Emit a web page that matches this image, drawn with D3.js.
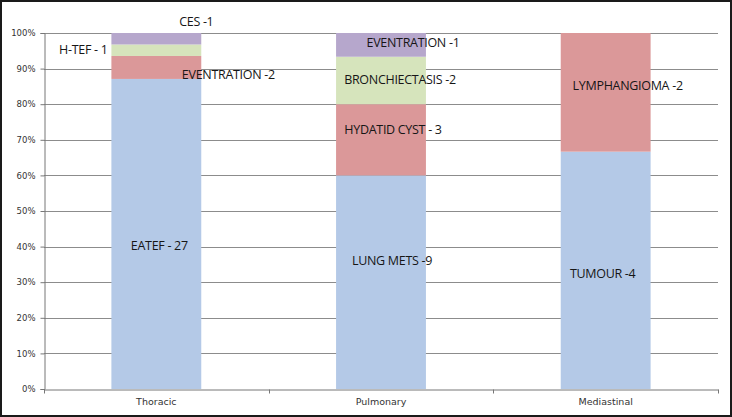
<!DOCTYPE html>
<html><head><meta charset="utf-8">
<script src="https://cdn.jsdelivr.net/npm/d3@7"></script>
<style>
html,body{margin:0;padding:0;background:#fff;}
svg{display:block;}
</style></head>
<body>
<script>
// ---- data ----
const categories = ["Thoracic", "Pulmonary", "Mediastinal"];
const seriesKeys = ["s1", "s2", "s3", "s4"];
const s1Values = [27, 9, 4];
const s2Values = [2, 3, 2];
const s3Values = [1, 2, 0];
const s4Values = [1, 1, 0];
const s1Labels = ["EATEF - 27", "LUNG METS -9", "TUMOUR -4"];
const s2Labels = ["EVENTRATION -2", "HYDATID CYST - 3", "LYMPHANGIOMA -2"];
const s3Labels = ["H-TEF - 1", "BRONCHIECTASIS -2", null];
const s4Labels = ["CES -1", "EVENTRATION -1", null];
const yTicks = [0, 0.1, 0.2, 0.3, 0.4, 0.5, 0.6, 0.7, 0.8, 0.9, 1.0];

// ---- layout (label anchors: value-space y, pixel x offset) ----
const colors = {s1: "#b4c9e7", s2: "#db9899", s3: "#d6e4bc", s4: "#b6a7cc"};
const labelAnchor = {
  s1: [[0.402, 3], [0.362, 11], [0.323, -3]],
  s2: [[0.882, 72], [0.728, 12], [0.851, 22]],
  s3: [[0.952, -73], [0.868, 19], null],
  s4: [[1.031, 40], [0.972, 32], null]
};

const W = 732, H = 417;
const svg = d3.select("body").append("svg").attr("width", W).attr("height", H);
svg.append("rect").attr("x", 1).attr("y", 1).attr("width", W - 2).attr("height", H - 2)
  .attr("fill", "#fff").attr("stroke", "#1a1a1a").attr("stroke-width", 2);

const M = {left: 44, right: 718, top: 33, bottom: 389};
const x = d3.scaleBand().domain(categories).range([M.left, M.right]).paddingInner(0.6).paddingOuter(0.3);
const y = d3.scaleLinear().domain([0, 1]).range([M.bottom, M.top]);

const rows = categories.map((c, i) => ({cat: c, s1: s1Values[i], s2: s2Values[i], s3: s3Values[i], s4: s4Values[i]}));
const labels = {s1: s1Labels, s2: s2Labels, s3: s3Labels, s4: s4Labels};
const stacked = d3.stack().keys(seriesKeys).offset(d3.stackOffsetExpand)(rows);

// gridlines
svg.append("g").selectAll("line").data(yTicks.filter(t => t > 0)).join("line")
  .attr("x1", M.left).attr("x2", M.right)
  .attr("y1", d => Math.round(y(d)) + 0.5).attr("y2", d => Math.round(y(d)) + 0.5)
  .attr("stroke", "#8c8c8c").attr("stroke-width", 1);

// bars
svg.append("g").selectAll("g").data(stacked).join("g")
  .attr("fill", d => colors[d.key])
  .selectAll("rect").data(d => d).join("rect")
  .attr("x", d => x(d.data.cat))
  .attr("width", x.bandwidth())
  .attr("y", d => y(d[1]))
  .attr("height", d => Math.max(0, y(d[0]) - y(d[1])));

// y axis
const yAxis = d3.axisLeft(y).tickValues(yTicks).tickFormat(d3.format(".0%")).tickSize(4).tickPadding(5);
const gy = svg.append("g").attr("transform", `translate(${M.left + 0.5},0)`).call(yAxis);
gy.select(".domain").attr("stroke", "#777");
gy.selectAll(".tick line").attr("stroke", "#777");
gy.selectAll("text").attr("font-family", "DejaVu Sans, sans-serif").attr("font-size", 8.5).attr("fill", "#333");

// x axis
const xAxis = d3.axisBottom(x).tickSize(0).tickPadding(9);
const gx = svg.append("g").attr("transform", `translate(0,${M.bottom + 0.5})`).call(xAxis);
gx.select(".domain").attr("stroke", "#777");
gx.selectAll("text").attr("font-family", "DejaVu Sans, sans-serif").attr("font-size", 9.5).attr("fill", "#333");
const bounds = categories.map(c => x(c) - x.step() * x.paddingOuter());
bounds.push(M.right);
gx.append("g").selectAll("line").data(bounds).join("line")
  .attr("x1", d => Math.round(d) + 0.5).attr("x2", d => Math.round(d) + 0.5)
  .attr("y1", 0).attr("y2", 4).attr("stroke", "#777");

// data labels
const lab = svg.append("g").attr("font-family", "Open Sans, sans-serif").attr("font-size", 12.5)
  .attr("fill", "#161616").attr("text-anchor", "middle");
seriesKeys.forEach(k => {
  categories.forEach((c, i) => {
    const t = labels[k][i], a = labelAnchor[k][i];
    if (!t || !a) return;
    lab.append("text")
      .attr("x", x(c) + x.bandwidth() / 2 + a[1])
      .attr("y", y(a[0]))
      .attr("dy", "0.35em")
      .attr("letter-spacing", -0.3)
      .text(t);
  });
});
</script>
</body></html>
